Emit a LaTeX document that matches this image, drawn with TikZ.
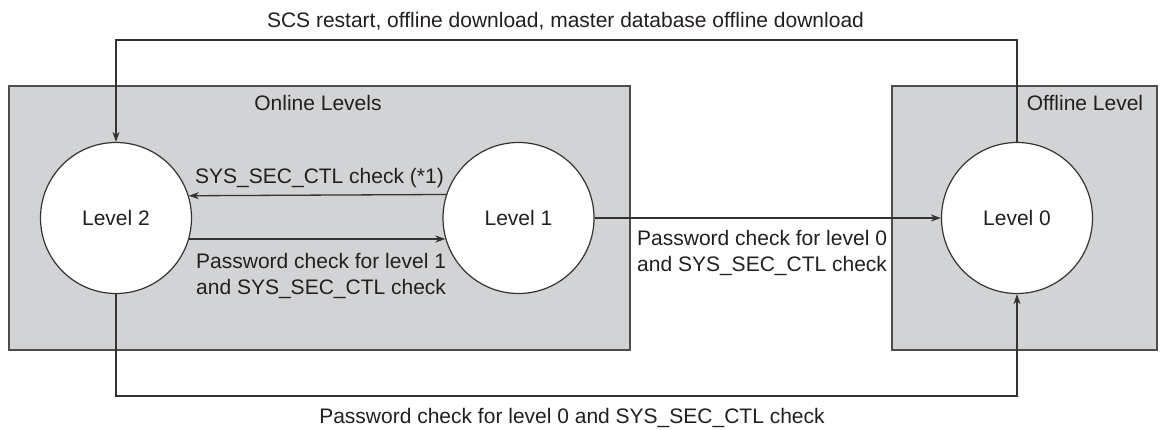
\documentclass[tikz,border=0pt]{standalone}
\usepackage{fontspec}
\setmainfont{Liberation Sans}
\usetikzlibrary{arrows.meta}
\definecolor{levelgray}{HTML}{D1D3D4}
\definecolor{framegray}{HTML}{4D4D4D}
\definecolor{linegray}{HTML}{333333}
\definecolor{inkgray}{HTML}{231F20}
\begin{document}
\begin{tikzpicture}[
    x=1pt, y=-1pt,
    every node/.style={
      text=inkgray,
      font=\fontsize{21}{26}\selectfont
    },
    levelarea/.style={
      draw=framegray,
      fill=levelgray,
      line width=1.5pt,
      rectangle,
      minimum height=264pt,
      inner sep=0pt
    },
    levelstate/.style={
      circle,
      draw=linegray,
      fill=white,
      line width=1.2pt,
      minimum size=151pt,
      inner sep=0pt
    },
    caption/.style={
      inner sep=0pt,
      align=left
    },
    flow/.style={
      draw=linegray,
      line width=1.3pt,
      -{Stealth[length=10pt,width=7pt,inset=3pt]}
    }
  ]
    \useasboundingbox (0,0) rectangle (1160,430);
    \node[levelarea, minimum width=621pt] (online) at (319.5,218) {};
    \node[levelarea, minimum width=265pt] (offline) at (1024.5,218) {};
    \node[caption, anchor=base] (onlinetitle) at (318,111) {Online Levels};
    \node[caption, anchor=base] (offlinetitle) at (1085,111) {Offline Level};

    \node[levelstate] (ltwo) at (116,218) {Level 2};
    \node[levelstate] (lone) at (518.5,218) {Level 1};
    \node[levelstate] (lzero) at (1017,218) {Level 0};

    \coordinate (topy) at (0,40);
    \coordinate (boty) at (0,396);

    \draw[flow] (lone.162.3) -- (ltwo.17.7);
    \draw[flow] (ltwo.-16.9) -- (lone.196.9);
    \draw[flow] (lone.east) -- (lzero.west);
    \draw[flow] (lzero.north) |- (topy -| ltwo.north) -- (ltwo.north);
    \draw[flow] (ltwo.south) |- (boty -| lzero.south) -- (lzero.south);

    \node[caption, anchor=base] (restartlabel) at (565.5,28)
      {SCS restart, offline download, master database offline download};
    \node[caption, anchor=base west] (secctllabel) at (195,184)
      {SYS\_SEC\_CTL check (*1)};
    \node[caption, anchor=north west] (pwonelabel) at (196,253)
      {Password check for level 1\\and SYS\_SEC\_CTL check};
    \node[caption, anchor=north west] (pwzerolabel) at (637,230)
      {Password check for level 0\\and SYS\_SEC\_CTL check};
    \node[caption, anchor=base] (pwbottomlabel) at (572,424)
      {Password check for level 0 and SYS\_SEC\_CTL check};
  \end{tikzpicture}
\end{document}
